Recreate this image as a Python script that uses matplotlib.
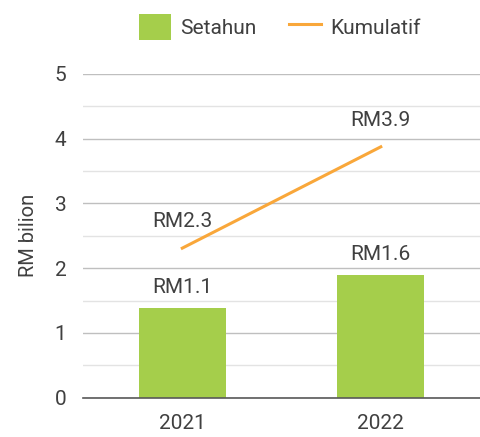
import matplotlib.pyplot as plt
import numpy as np

# data
years = ['2021', '2022']
setahun = [1.39, 1.90]
setahun_labels = ['RM1.1', 'RM1.6']
kumulatif = [2.31, 3.875]
kumulatif_labels = ['RM2.3', 'RM3.9']

green = '#A5CE4B'
orange = '#F9A73A'
text_col = '#404040'

plt.rcParams['font.family'] = ['Roboto', 'DejaVu Sans']
plt.rcParams['text.color'] = text_col

fig = plt.figure(figsize=(4.81, 4.37), dpi=100)
ax = fig.add_axes([0.1726, 0.0899, 0.8254, 0.7408])

x = np.arange(len(years))
bars = ax.bar(x, setahun, width=0.44, color=green, label='Setahun', zorder=3)
line, = ax.plot(x, kumulatif, color=orange, linewidth=2.2, label='Kumulatif', zorder=4)

for xi, v, lab in zip(x, setahun, setahun_labels):
    ax.annotate(lab, (xi, v), xytext=(0, 8), textcoords='offset points',
                ha='center', va='bottom', fontsize=15, color=text_col)
for xi, v, lab in zip(x, kumulatif, kumulatif_labels):
    ax.annotate(lab, (xi, v), xytext=(0, 12), textcoords='offset points',
                ha='center', va='bottom', fontsize=15, color=text_col)

ax.set_xlim(-0.5, 1.5)
ax.set_ylim(0, 5)
ax.set_xticks(x)
ax.set_xticklabels(years)
ax.set_yticks(range(6))
ax.set_yticks(np.arange(0.5, 5, 1), minor=True)
ax.tick_params(axis='both', which='both', length=0, labelsize=15, colors=text_col)
ax.tick_params(axis='y', pad=12)
ax.tick_params(axis='x', pad=12)
ax.grid(axis='y', which='major', color='#BFBFBF', linewidth=1, zorder=0)
ax.grid(axis='y', which='minor', color='#E3E3E3', linewidth=1, zorder=0)
for s in ['top', 'right', 'left']:
    ax.spines[s].set_visible(False)
ax.spines['bottom'].set_color('#595959')
ax.spines['bottom'].set_linewidth(1.2)
ax.spines['bottom'].set_zorder(5)

ax.set_ylabel('RM bilion', fontsize=14.5, color=text_col, labelpad=12)

fig.legend(handles=[bars, line], labels=['Setahun', 'Kumulatif'],
           loc='center', bbox_to_anchor=(0.582, 0.938), ncol=2, frameon=False,
           fontsize=15, handlelength=1.5, handleheight=1.5, columnspacing=1.6,
           handletextpad=0.45)

fig.savefig('out.png', dpi=100)
